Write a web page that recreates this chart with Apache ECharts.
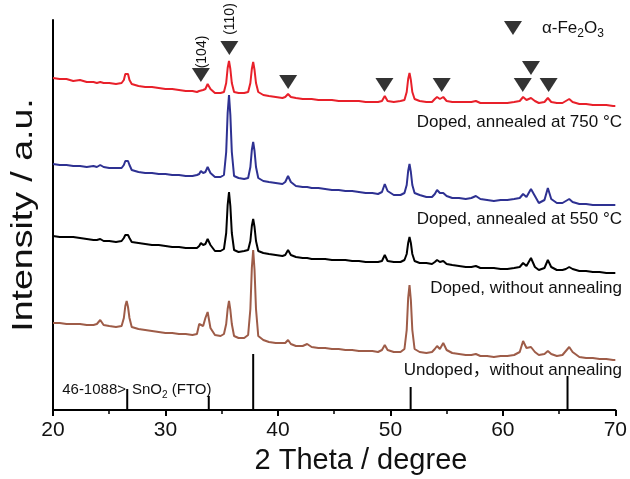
<!DOCTYPE html>
<html>
<head>
<meta charset="utf-8">
<script src="https://cdn.jsdelivr.net/npm/echarts@6/dist/echarts.min.js"></script>
<style>
html,body{margin:0;padding:0;background:#fff;}
#chart{width:630px;height:479px;}
</style>
</head>
<body>
<div id="chart"></div>
<script>
// 2 theta grid (degrees)
const twoTheta = [
20.0,20.6,21.2,21.8,22.4,23.0,23.6,23.9,24.2,24.5,25.0,25.6,
26.1,26.3,26.43,26.55,26.67,26.8,27.0,
27.6,28.2,28.8,29.4,30.0,30.6,31.2,31.8,32.4,32.8,33.0,33.15,33.35,33.55,33.75,34.0,34.4,34.9,
35.2,35.4,35.53,35.65,35.77,35.9,36.1,
36.5,37.0,
37.35,37.55,37.68,37.8,37.92,38.05,38.25,
38.7,39.2,39.8,40.4,40.65,40.9,41.15,41.6,42.2,42.6,43.0,43.6,44.2,44.8,45.4,46.0,46.6,47.2,47.8,48.4,48.9,49.25,49.5,49.75,50.3,50.9,
51.25,51.45,51.58,51.7,51.82,51.95,52.15,
52.6,53.2,53.7,53.95,54.15,54.4,54.7,55.0,55.5,56.1,56.7,57.2,57.6,58.0,58.6,59.2,59.8,60.4,61.0,61.5,61.8,62.1,62.5,62.85,63.2,63.7,64.0,64.3,64.8,65.3,65.6,65.9,66.2,66.8,67.4,68.0,68.6,69.2,69.8,70.0];

// intensities (arbitrary units, curves stacked with offsets)
const doped750 = [
332,331,331,329,330,328,328,327,328,327,327,326,
327,330,336,338,336,330,326,
324,323,323,322,321,321,320,319,319,318,319,321,320,321,326,321,317,317,
318,327,342,349,341,327,318,
317,317,
318,327,341,348,340,327,318,
315,314,313,312,313,316,313,312,311,311,311,310,310,310,309,309,309,309,308,308,308,309,314,309,308,309,
310,318,331,337,330,318,311,
309,308,308,311,313,311,313,309,308,308,308,308,309,307,307,307,307,307,308,309,313,310,312,309,307,308,312,308,307,307,309,311,308,306,306,305,305,305,304,304];

const doped550 = [
246,245,245,244,244,243,244,243,245,243,242,242,
242,245,249,251,249,245,240,
238,237,237,236,236,235,235,234,234,235,236,239,237,238,243,237,233,233,
235,258,297,315,295,258,234,
232,231,
232,243,260,268,259,243,232,
229,228,227,226,228,234,228,224,223,223,222,222,221,220,220,219,219,218,217,217,216,218,226,219,215,215,
217,225,239,246,238,225,217,
215,213,213,216,220,217,217,214,212,212,211,212,214,211,210,209,210,210,211,212,216,213,221,214,207,210,222,211,207,207,209,211,208,206,206,205,205,205,205,205];

const dopedNoAnneal = [
174,173,173,173,172,171,170,170,171,169,169,168,
169,172,175,177,175,172,168,
167,166,165,165,164,163,163,162,162,162,164,167,165,166,171,165,159,159,
161,177,205,218,204,177,160,
158,159,
160,169,184,191,183,169,159,
157,156,155,154,155,160,155,153,152,152,151,151,151,150,150,150,149,149,148,148,148,149,155,149,148,148,
150,156,167,173,167,156,149,
147,147,146,148,150,148,149,146,145,144,143,143,144,142,142,142,141,141,142,143,147,144,152,143,140,142,150,143,140,140,141,143,141,139,139,138,138,137,137,137];

const undopedNoAnneal = [
87,87,86,86,86,85,85,86,90,85,84,83,
84,92,104,109,103,92,83,
81,80,79,78,77,77,76,76,75,76,86,85,84,92,98,82,75,74,
76,86,101,109,100,86,74,
72,72,
75,101,142,160,140,101,74,
70,68,67,67,67,70,66,64,64,66,63,62,62,61,61,60,60,59,59,59,58,60,65,60,58,58,
61,80,112,125,110,80,61,
58,57,58,61,64,61,67,60,57,56,55,55,56,54,54,53,54,54,55,58,69,62,63,58,55,56,59,56,54,55,59,63,58,53,52,52,51,51,50,50];

// SnO2 (FTO) reference pattern 46-1088
const refPos = [26.6, 33.85, 37.8, 51.8, 65.75];
const refInt = [21, 14, 56, 23, 34];

// alpha-Fe2O3 peak markers
const hemX = [33.15, 35.68, 40.91, 49.47, 54.56, 61.77, 62.5, 64.07];
const hemY = [335, 362, 328, 325, 325, 325, 342, 325];
const legendKeyX = [60.9];
const legendKeyY = [382];

const xTicks = [20, 30, 40, 50, 60, 70];

const FONT = '"Liberation Sans", Arial, "Noto Sans CJK SC", sans-serif';
const zip = (xs, ys) => xs.map((x, i) => [x, ys[i]]);

const chart = echarts.init(document.getElementById('chart'), null, {renderer: 'canvas'});

function lineSeries(name, vals, color) {
  return {
    name, type: 'line', data: zip(twoTheta, vals),
    showSymbol: false, symbol: 'none', smooth: false,
    lineStyle: {color, width: 2}, z: 3, animation: false
  };
}

const sub = {fontSize: 12, lineHeight: 12, verticalAlign: 'bottom', fontFamily: FONT, fill: '#111'};

chart.setOption({
  animation: false,
  backgroundColor: '#fff',
  grid: {left: 53, right: 10, top: 20, bottom: 69},
  xAxis: {
    type: 'value', min: 20, max: 70, interval: 10,
    axisLine: {show: true, onZero: false, lineStyle: {color: '#000', width: 2}},
    axisTick: {show: true, inside: false, length: 6, lineStyle: {color: '#000', width: 2}},
    minorTick: {show: true, splitNumber: 2, length: 4, lineStyle: {color: '#000', width: 1.5}},
    axisLabel: {fontSize: 21, color: '#111', margin: 10, fontFamily: FONT,
      formatter: v => xTicks.includes(v) ? String(v) : ''},
    splitLine: {show: false}
  },
  yAxis: {
    type: 'value', min: 0, max: 390,
    axisLine: {show: true, lineStyle: {color: '#000', width: 2}},
    axisTick: {show: false}, axisLabel: {show: false}, splitLine: {show: false}
  },
  series: [
    lineSeries('Doped, annealed at 750 °C', doped750, '#e8202a'),
    lineSeries('Doped, annealed at 550 °C', doped550, '#2e3192'),
    lineSeries('Doped, without annealing', dopedNoAnneal, '#000000'),
    lineSeries('Undoped, without annealing', undopedNoAnneal, '#9e5c48'),
    {
      name: 'SnO2 46-1088', type: 'bar', data: zip(refPos, refInt),
      barWidth: 2, itemStyle: {color: '#000'}, z: 2, animation: false
    },
    {
      name: 'alpha-Fe2O3', type: 'scatter', data: zip(hemX, hemY),
      symbol: 'triangle', symbolRotate: 180, symbolSize: [18, 14],
      itemStyle: {color: '#000'}, z: 4, animation: false
    },
    {
      name: 'legendKey', type: 'scatter', data: zip(legendKeyX, legendKeyY),
      symbol: 'triangle', symbolRotate: 180, symbolSize: [18, 14],
      itemStyle: {color: '#000'}, z: 4, animation: false
    }
  ],
  graphic: [
    {type: 'text', x: 361, y: 461,
      style: {text: '2 Theta / degree', fontSize: 29, fontFamily: FONT, fill: '#111', align: 'center', verticalAlign: 'middle'}},
    {type: 'text', x: 24, y: 215, rotation: Math.PI / 2, scaleX: 1.25,
      style: {text: 'Intensity / a.u.', fontSize: 30, fontFamily: FONT, fill: '#111', align: 'center', verticalAlign: 'middle'}},
    {type: 'text', x: 202, y: 52, rotation: Math.PI / 2,
      style: {text: '(104)', fontSize: 14, fontFamily: FONT, fill: '#111', align: 'center', verticalAlign: 'middle'}},
    {type: 'text', x: 230, y: 19, rotation: Math.PI / 2,
      style: {text: '(110)', fontSize: 14, fontFamily: FONT, fill: '#111', align: 'center', verticalAlign: 'middle'}},
    {type: 'text', x: 542, y: 28,
      style: {text: '{a|α-Fe}{s|2}{a|O}{s|3}', align: 'left', verticalAlign: 'middle',
        rich: {a: {fontSize: 17, lineHeight: 24, fontFamily: FONT, fill: '#111'}, s: sub}}},
    {type: 'text', x: 622, y: 122,
      style: {text: 'Doped, annealed at 750 °C', fontSize: 17, fontFamily: FONT, fill: '#111', align: 'right', verticalAlign: 'middle'}},
    {type: 'text', x: 622, y: 219,
      style: {text: 'Doped, annealed at 550 °C', fontSize: 17, fontFamily: FONT, fill: '#111', align: 'right', verticalAlign: 'middle'}},
    {type: 'text', x: 622, y: 288,
      style: {text: 'Doped, without annealing', fontSize: 17, fontFamily: FONT, fill: '#111', align: 'right', verticalAlign: 'middle'}},
    {type: 'text', x: 622, y: 370,
      style: {text: 'Undoped，without annealing', fontSize: 17, fontFamily: FONT, fill: '#111', align: 'right', verticalAlign: 'middle'}},
    {type: 'text', x: 126, y: 390,
      style: {text: '46-1088>', fontSize: 15, fontFamily: FONT, fill: '#111', align: 'right', verticalAlign: 'middle'}},
    {type: 'text', x: 132, y: 390,
      style: {text: '{a|SnO}{s|2}{a| (FTO)}', align: 'left', verticalAlign: 'middle',
        rich: {a: {fontSize: 15, lineHeight: 20, fontFamily: FONT, fill: '#111'}, s: {fontSize: 10, lineHeight: 11, verticalAlign: 'bottom', fontFamily: FONT, fill: '#111'}}}}
  ]
});
</script>
</body>
</html>
